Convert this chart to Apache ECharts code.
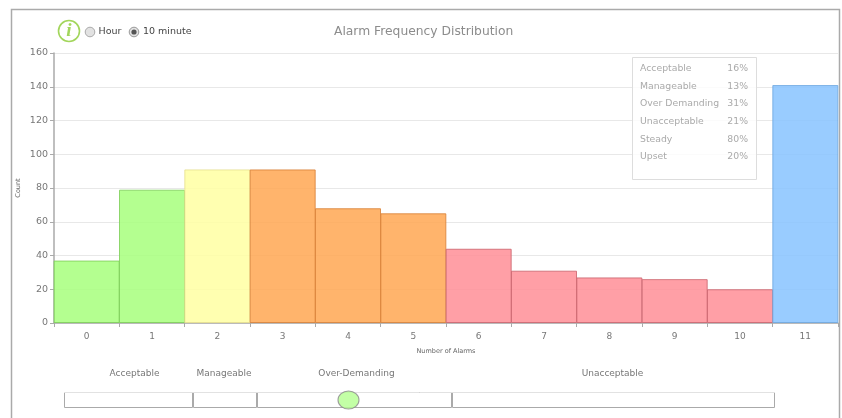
<!DOCTYPE html>
<html><head><meta charset="utf-8">
<style>html,body{margin:0;padding:0;background:#fff}#c{width:842px;height:418px;filter:blur(0.35px)}</style>
<script src="https://cdn.jsdelivr.net/npm/echarts@6/dist/echarts.min.js"></script>
</head><body><div id="c"></div>
<script>
const categories=['0','1','2','3','4','5','6','7','8','9','10','11'];
const counts=[37,79,91,91,68,65,44,31,27,26,20,141];
const barZones=['acc','acc','man','over','over','over','un','un','un','un','un','none'];
const zoneFill={acc:'#a7ff7d',man:'#ffffa2',over:'#ffa752',un:'#ff8e96',none:'#87c3ff'};
const zoneEdge={acc:'#7fcf5a',man:'#e8e090',over:'#d9833a',un:'#cc6670',none:'#6fa8e0'};
const scaleNames=['Acceptable','Manageable','Over-Demanding','Unacceptable'];
const scaleWidths=[129,64,195,323];
const scaleLabelShift=[6,-1,2,-1];
const scaleMarker=284.5;
const statNames=['Acceptable','Manageable','Over Demanding','Unacceptable','Steady','Upset'];
const statValues=['16%','13%','31%','21%','80%','20%'];
const FONT='"DejaVu Sans",sans-serif';
const chart=echarts.init(document.getElementById('c'),null,{renderer:'canvas'});
const g=[];
g.push({type:'rect',z:0,shape:{x:11.5,y:9.5,width:828,height:420},style:{fill:'#fff',stroke:'#aaa',lineWidth:1.5}});
g.push({type:'circle',shape:{cx:69,cy:31,r:10.5},style:{fill:'#fff',stroke:'#a3d65c',lineWidth:1.6}});
g.push({type:'text',style:{x:69,y:31,text:'i',font:'italic bold 19px "Liberation Serif",serif',fill:'#a3d65c',align:'center',verticalAlign:'middle'}});
g.push({type:'circle',shape:{cx:90,cy:32,r:4.8},style:{fill:'#e2e2e2',stroke:'#aaa',lineWidth:1}});
g.push({type:'text',style:{x:98.5,y:32,text:'Hour',font:'9.5px '+FONT,fill:'#444',verticalAlign:'middle'}});
g.push({type:'circle',shape:{cx:134,cy:32,r:4.8},style:{fill:'#e2e2e2',stroke:'#999',lineWidth:1}});
g.push({type:'circle',shape:{cx:134,cy:32,r:2.6},style:{fill:'#555'}});
g.push({type:'text',style:{x:143,y:32,text:'10 minute',font:'9.5px '+FONT,fill:'#444',verticalAlign:'middle'}});
g.push({type:'rect',z:50,shape:{x:632.5,y:57.5,width:124,height:122},style:{fill:'rgba(255,255,255,0.8)',stroke:'#ddd',lineWidth:1}});
g.push({type:'line',z:5,shape:{x1:64,y1:392.5,x2:775,y2:392.5},style:{stroke:'#e2e2e2',lineWidth:1}});
statNames.forEach((n,i)=>{
  const y=68.5+i*17.7;
  g.push({type:'text',z:51,style:{x:640,y,text:n,font:'9.3px '+FONT,fill:'#aaa',verticalAlign:'middle'}});
  g.push({type:'text',z:51,style:{x:748,y,text:statValues[i],font:'9.3px '+FONT,fill:'#aaa',align:'right',verticalAlign:'middle'}});
});
chart.setOption({
  animation:false,
  backgroundColor:'#fff',
  title:{text:'Alarm Frequency Distribution',left:329,top:21,textStyle:{fontFamily:FONT,fontSize:12.3,fontWeight:'normal',color:'#8c8c8c'}},
  graphic:g,
  grid:[
    {left:54,top:53,width:784,height:270,containLabel:false},
    {left:64,top:392,width:711,height:16}
  ],
  xAxis:[
    {type:'category',gridIndex:0,data:categories,name:'Number of Alarms',nameLocation:'middle',nameGap:24.5,nameMoveOverlap:false,
     nameTextStyle:{fontFamily:FONT,fontSize:6.5,color:'#666'},
     axisLine:{lineStyle:{color:'#aaa',width:1.5}},axisTick:{show:true,alignWithLabel:false,length:4,lineStyle:{color:'#aaa'}},
     axisLabel:{fontFamily:FONT,fontSize:9,color:'#777',margin:9},splitLine:{show:false}},
    {type:'value',gridIndex:1,min:0,max:711,show:false}
  ],
  yAxis:[
    {type:'value',gridIndex:0,min:0,max:160,interval:20,name:'Count',nameLocation:'middle',nameGap:32,nameMoveOverlap:false,
     nameTextStyle:{fontFamily:FONT,fontSize:6.5,color:'#666'},
     axisLine:{show:true,lineStyle:{color:'#aaa',width:1.5}},axisTick:{show:true,length:4,lineStyle:{color:'#aaa'}},
     axisLabel:{fontFamily:FONT,fontSize:9.5,color:'#777',margin:6},splitLine:{show:true,lineStyle:{color:'#e8e8e8',width:1}}},
    {type:'category',gridIndex:1,data:['scale'],show:false}
  ],
  series:[
    {type:'bar',xAxisIndex:0,yAxisIndex:0,barWidth:66,silent:true,
     data:counts.map((v,i)=>({value:v,itemStyle:{color:zoneFill[barZones[i]],borderColor:zoneEdge[barZones[i]],borderWidth:1,opacity:0.85}}))},
    ...scaleNames.map((n,i)=>({type:'bar',xAxisIndex:1,yAxisIndex:1,stack:'scale',barWidth:'100%',silent:true,
      data:[scaleWidths[i]],itemStyle:{color:'#fff',borderColor:'#aaa',borderWidth:1},
      label:{show:true,position:'top',distance:14,offset:[scaleLabelShift[i],0],formatter:n,fontFamily:FONT,fontSize:9,color:'#777'}})),
    {type:'scatter',xAxisIndex:1,yAxisIndex:1,z:10,silent:true,
     symbol:'circle',symbolKeepAspect:false,symbolSize:[21,18],
     data:[[scaleMarker,'scale']],itemStyle:{color:'#b4ff90',borderColor:'#888',borderWidth:1}}
  ]
});
</script></body></html>
